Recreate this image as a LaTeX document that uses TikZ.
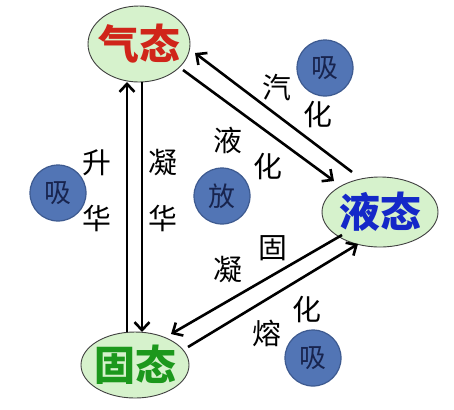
\documentclass[tikz,border=0pt]{standalone}
\usepackage{fontspec}
\newfontfamily\cjk{Noto Sans CJK SC}
\usetikzlibrary{arrows.meta}
\definecolor{ellfill}{HTML}{D6F2CC}
\definecolor{circfill}{HTML}{5275B5}
\definecolor{circdraw}{HTML}{3D5A90}
\definecolor{circtext}{HTML}{18244E}
\definecolor{gasred}{HTML}{D0251A}
\definecolor{liqblue}{HTML}{1428C8}
\definecolor{solgreen}{HTML}{1C981C}
\tikzset{
  state/.style={draw=black!75, line width=0.9bp, fill=ellfill},
  stxt/.style={inner sep=0pt, font=\cjk\bfseries\fontsize{41}{41}\selectfont},
  heat/.style={circle, draw=circdraw, line width=1.2bp, fill=circfill, minimum size=56bp, inner sep=0pt, font=\cjk\fontsize{27}{27}\selectfont, text=circtext},
  lbl/.style={font=\cjk\fontsize{29}{29}\selectfont, inner sep=0pt},
  arr/.style={line width=2.6bp, -{Straight Barb[length=8bp,width=15bp,line width=2.6bp]}},
}
\begin{document}
\begin{tikzpicture}[x=1bp,y=-1bp]
\useasboundingbox (0,0) rectangle (454,409);
% states
\draw[state] (139,44) ellipse [x radius=51, y radius=38];
\node[stxt, text=gasred] (gas) at (139,44) {气态};
\draw[state] (380,212) ellipse [x radius=58, y radius=35];
\node[stxt, text=liqblue] (liq) at (380,212) {液态};
\draw[state] (135,365) ellipse [x radius=54, y radius=33];
\node[stxt, text=solgreen] (sol) at (135,365) {固态};
% connector endpoints
\coordinate (s1) at (127,332); \coordinate (g1) at (127,82);
\coordinate (g2) at (142,82);  \coordinate (s2) at (142,332);
\coordinate (l1) at (352,172); \coordinate (g3) at (195,53);
\coordinate (g4) at (183,70);  \coordinate (l2) at (334,181);
\coordinate (l3) at (342,235); \coordinate (s3) at (171,334);
\coordinate (s4) at (188,347); \coordinate (l4) at (358,244);
\draw[arr] (s1) -- (g1);
\draw[arr] (g2) -- (s2);
\draw[arr] (l1) -- (g3);
\draw[arr] (g4) -- (l2);
\draw[arr] (l3) -- (s3);
\draw[arr] (s4) -- (l4);
% heat circles
\node[heat] (c1) at (325,68) {吸};
\node[heat] (c2) at (58,193) {吸};
\node[heat] (c3) at (222,196) {放};
\node[heat] (c4) at (313,358) {吸};
% labels
\node[lbl] (t1) at (277,88) {汽};
\node[lbl] (t2) at (318,115) {化};
\node[lbl] (t3) at (228,140) {液};
\node[lbl] (t4) at (268,167) {化};
\node[lbl] (t5) at (97,163) {升};
\node[lbl] (t6) at (97,218) {华};
\node[lbl] (t7) at (163,163) {凝};
\node[lbl] (t8) at (163,218) {华};
\node[lbl] (t9) at (273,248) {固};
\node[lbl] (t10) at (228,270) {凝};
\node[lbl] (t11) at (307,310) {化};
\node[lbl] (t12) at (267,333) {熔};
\end{tikzpicture}
\end{document}
